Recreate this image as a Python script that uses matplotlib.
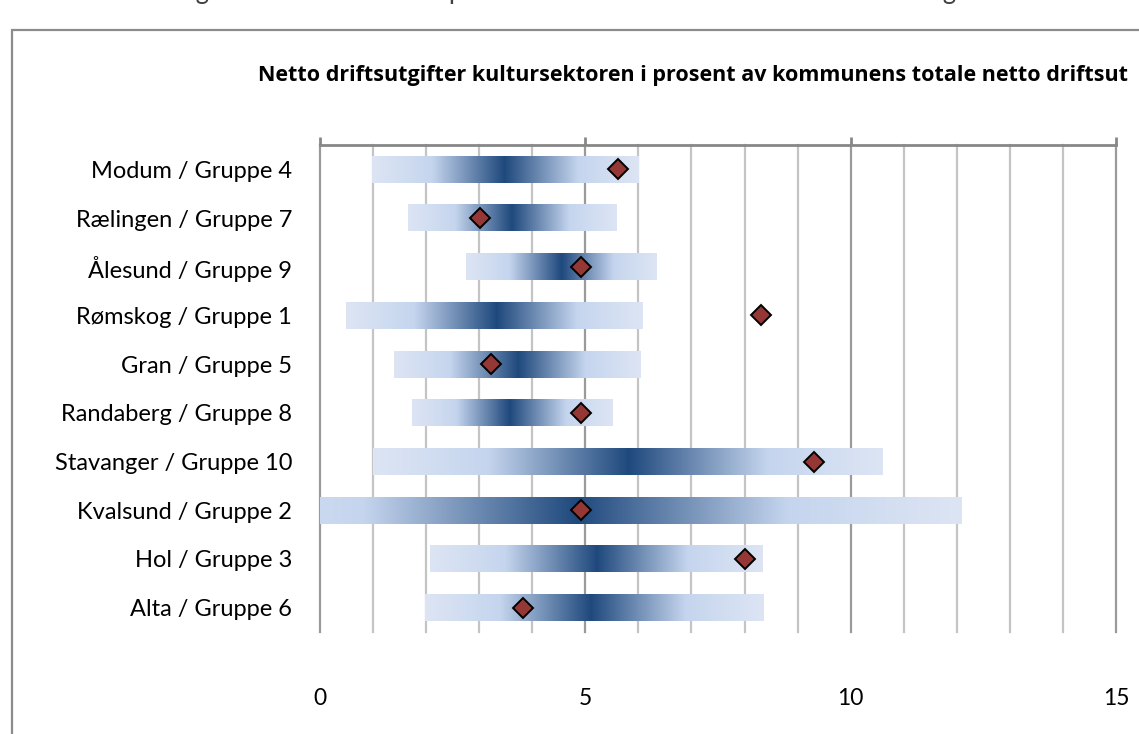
import matplotlib
matplotlib.use("Agg")
import matplotlib.pyplot as plt
import numpy as np
from matplotlib.patches import Rectangle
from matplotlib.colors import to_rgb

# --- DATA ---
categories = ["Modum / Gruppe 4", "Rælingen / Gruppe 7", "Ålesund / Gruppe 9",
              "Rømskog / Gruppe 1", "Gran / Gruppe 5", "Randaberg / Gruppe 8",
              "Stavanger / Gruppe 10", "Kvalsund / Gruppe 2", "Hol / Gruppe 3",
              "Alta / Gruppe 6"]
group_min = [0.98, 1.66, 2.75, 0.49, 1.39, 1.74, 0.99, -2.5, 2.08, 1.97]
group_median = [3.48, 3.61, 4.55, 3.33, 3.73, 3.58, 5.81, 4.85, 5.22, 5.09]
group_max = [6.01, 5.58, 6.34, 6.08, 6.04, 5.52, 10.6, 12.09, 8.34, 8.34]
kommune_value = [5.61, 3.02, 4.91, 8.31, 3.22, 4.92, 9.30, 4.92, 8.01, 3.82]
x_ticks = [0, 5, 10, 15]

title = "Netto driftsutgifter kultursektoren i prosent av kommunens totale netto driftsutgifter"

plt.rcParams['font.family'] = ['Lato', 'DejaVu Sans']

W, H = 1139, 734
fig = plt.figure(figsize=(W / 100, H / 100), dpi=100)
ax = fig.add_axes([320 / W, 1 - 632 / H, (1116 - 320) / W, (632 - 145) / H])

# gradient stops: distance from median (0) to bar end (1)
stop_d = [0.0, 0.55, 1.0]
stop_c = [to_rgb("#1f497d"), to_rgb("#c5d5ee"), to_rgb("#dde5f4")]


def gradient_row(lo, mid, hi, n=400):
    xs = np.linspace(lo, hi, n)
    d = np.where(xs < mid, (mid - xs) / (mid - lo), (xs - mid) / (hi - mid))
    rgb = np.stack([np.interp(d, stop_d, [c[i] for c in stop_c]) for i in range(3)], axis=-1)
    return rgb[np.newaxis, :, :]


bar_h = 0.55
ypos = np.arange(len(categories))
bars = ax.barh(ypos, np.subtract(group_max, group_min), left=group_min, height=bar_h,
               color="none", linewidth=0)
for bar, lo, mid, hi in zip(bars, group_min, group_median, group_max):
    y0, y1 = bar.get_y(), bar.get_y() + bar.get_height()
    ax.imshow(gradient_row(lo, mid, hi), extent=[bar.get_x(), bar.get_x() + bar.get_width(), y1, y0],
              aspect="auto", interpolation="bilinear", zorder=2)

ax.plot(kommune_value, ypos, linestyle="none", marker="D", markersize=10.5,
        markerfacecolor="#953735", markeredgecolor="black", markeredgewidth=1.4, zorder=5)

ax.set_xlim(0, 15)
ax.set_ylim(len(categories) - 0.5, -0.5)

# grid: light minor lines every unit, darker at the labelled values
for v in range(0, 16):
    major = v in x_ticks
    ax.axvline(v, color="#9a9a9a" if major else "#c4c4c4", lw=1.6, zorder=0, clip_on=False)

for s in ["left", "right", "bottom"]:
    ax.spines[s].set_visible(False)
ax.spines["top"].set_color("#878787")
ax.spines["top"].set_linewidth(2)

ax.set_xticks(x_ticks)
ax.set_xticklabels([str(t) for t in x_ticks])
ax.tick_params(axis="x", bottom=False, top=True, labelbottom=True, labeltop=False,
               direction="out", length=6, width=2, color="#878787", pad=34, labelsize=16.5)
ax.set_yticks(ypos)
ax.set_yticklabels(categories)
ax.tick_params(axis="y", length=0, pad=20, labelsize=17)

fig.text(258 / W, 1 - 75 / H, title[:80], fontsize=15.5, fontweight="bold", va="center", ha="left",
         family=["Open Sans", "DejaVu Sans"])
# top line of the page, mostly cut off
fig.text(40 / W, 1 + 1 / H, title, fontsize=18.5, va="baseline", ha="left", color="#404040")

# chart frame
fig.add_artist(Rectangle((12 / W, -0.05), 1.2, 1 - 30 / H + 0.05, transform=fig.transFigure,
                         fill=False, edgecolor="#8c8c8c", lw=1.6))

fig.savefig("out.png", dpi=100)
